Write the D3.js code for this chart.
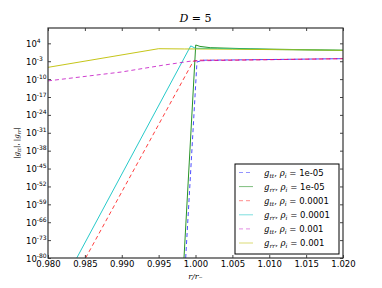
<!doctype html>
<html lang="en">
<head>
    <meta charset="UTF-8">
    <title>D3 : D=5</title>
    <script type="text/javascript" src="https://cdn.jsdelivr.net/npm/d3@7"></script>
    <style type="text/css">
        body { margin: 0; background: #fff; }
        text { font-family: "DejaVu Sans", sans-serif; fill: #000; }
        .math { font-family: "DejaVu Serif", serif; font-style: italic; }
    </style>
</head>
<body>
<script type="text/javascript">

    // r / r_minus and log10 |g|
    var ttR1 = [0.99867, 1.0002, 1.001, 1.005, 1.02];
    var ttE1 = [-80, -3.3, -2.6, -2.5, -2.0];
    var rrR1 = [0.99844, 1.00003, 1.0006, 1.002, 1.0074, 1.02];
    var rrE1 = [-80, 3.35, 2.8, 2.3, 1.85, 1.27];
    var ttR2 = [0.9851, 0.9997, 1.0005, 1.005, 1.02];
    var ttE2 = [-80, -3.0, -2.6, -2.55, -2.0];
    var rrR2 = [0.9839, 0.99935, 1.0, 1.003, 1.01, 1.02];
    var rrE2 = [-80, 3.0, 2.05, 2.0, 1.6, 1.27];
    var ttR3 = [0.98, 0.99, 0.9955, 0.9995, 1.005, 1.02];
    var ttE3 = [-10.7, -7.2, -4.6, -2.9, -2.6, -2.0];
    var rrR3 = [0.98, 0.995, 0.9985, 1.0, 1.005, 1.02];
    var rrE3 = [-5.4, 1.9, 1.8, 1.8, 1.7, 1.27];

    var labels = ["1e-05", "1e-05", "0.0001", "0.0001", "0.001", "0.001"];
    var xTicks = [0.980, 0.985, 0.990, 0.995, 1.000, 1.005, 1.010, 1.015, 1.020];
    var yTickExp = [4, -3, -10, -17, -24, -31, -38, -45, -52, -59, -66, -73, -80];

    var series = [
        {r: ttR1, e: ttE1, kind: "tt", color: "#0000ff", dash: "4,3", op: 0.7},
        {r: rrR1, e: rrE1, kind: "rr", color: "#008000", dash: null, op: 0.85},
        {r: ttR2, e: ttE2, kind: "tt", color: "#ff0000", dash: "4,3", op: 0.75},
        {r: rrR2, e: rrE2, kind: "rr", color: "#00bfbf", dash: null, op: 0.85},
        {r: ttR3, e: ttE3, kind: "tt", color: "#bf00bf", dash: "4,3", op: 0.75},
        {r: rrR3, e: rrE3, kind: "rr", color: "#bfbf00", dash: null, op: 0.9}
    ];

    var w = 382, h = 288;
    var mLeft = 48, mTop = 28, pw = 295, ph = 230;

    var xScale = d3.scaleLinear().domain([0.98, 1.02]).range([mLeft, mLeft + pw]);
    var yScale = d3.scaleLog().domain([1e-80, 1e10]).range([mTop + ph, mTop]);

    var svg = d3.select("body").append("svg").attr("width", w).attr("height", h);

    svg.append("clipPath").attr("id", "plot")
        .append("rect").attr("x", mLeft).attr("y", mTop).attr("width", pw).attr("height", ph);

    var line = d3.line()
        .x(function (d) { return xScale(d[0]); })
        .y(function (d) { return yScale(Math.pow(10, d[1])); });

    svg.append("g").attr("clip-path", "url(#plot)")
        .selectAll("path").data(series).enter().append("path")
        .attr("d", function (s) { return line(s.r.map(function (v, i) { return [v, s.e[i]]; })); })
        .attr("fill", "none")
        .attr("stroke", function (s) { return s.color; })
        .attr("stroke-opacity", function (s) { return s.op; })
        .attr("stroke-width", 1)
        .attr("stroke-dasharray", function (s) { return s.dash; });

    // axes, ticks inward on all four sides
    var yTicks = yTickExp.map(function (e) { return Math.pow(10, e); });
    svg.append("g").attr("transform", "translate(0," + (mTop + ph) + ")")
        .call(d3.axisBottom(xScale).tickValues(xTicks).tickFormat(d3.format(".3f")).tickSizeInner(-3).tickSizeOuter(0).tickPadding(3));
    svg.append("g").attr("transform", "translate(0," + mTop + ")")
        .call(d3.axisTop(xScale).tickValues(xTicks).tickFormat("").tickSizeInner(-3).tickSizeOuter(0));
    svg.append("g").attr("transform", "translate(" + mLeft + ",0)")
        .call(d3.axisLeft(yScale).tickValues(yTicks).tickFormat("").tickSizeInner(-3).tickSizeOuter(0));
    svg.append("g").attr("transform", "translate(" + (mLeft + pw) + ",0)")
        .call(d3.axisRight(yScale).tickValues(yTicks).tickFormat("").tickSizeInner(-3).tickSizeOuter(0));

    svg.selectAll(".domain").remove();
    svg.selectAll(".tick line").attr("stroke", "#444");
    svg.selectAll(".tick text").attr("font-size", "8.5px").attr("font-family", "DejaVu Sans").attr("fill", "#000");

    svg.append("rect").attr("x", mLeft).attr("y", mTop).attr("width", pw).attr("height", ph)
        .attr("fill", "none").attr("stroke", "#333").attr("stroke-width", 1.2);

    // y tick labels 10^e
    var yl = svg.append("g").selectAll("text").data(yTickExp).enter().append("text")
        .attr("x", 26)
        .attr("y", function (e) { return yScale(Math.pow(10, e)) + 3.5; })
        .attr("font-size", "8.5px");
    yl.append("tspan").text("10");
    yl.append("tspan").attr("dy", -4).attr("font-size", "6px").text(function (e) { return e; });

    // title
    var t = svg.append("text").attr("x", mLeft + pw / 2).attr("y", 22).attr("text-anchor", "middle").attr("font-size", "11px");
    t.append("tspan").attr("class", "math").text("D");
    t.append("tspan").attr("font-family", "DejaVu Serif").text(" = 5");

    // x label
    svg.append("text").attr("class", "math").attr("x", mLeft + pw / 2).attr("y", 279)
        .attr("text-anchor", "middle").attr("font-size", "8px").text("r/r\u208b");

    // y label
    var yLab = svg.append("text").attr("transform", "translate(19," + (mTop + ph / 2) + ") rotate(-90)")
        .attr("text-anchor", "middle").attr("font-size", "7px").attr("font-family", "DejaVu Serif");
    yLab.append("tspan").text("|");
    yLab.append("tspan").attr("class", "math").text("g");
    yLab.append("tspan").attr("dy", 2).attr("font-size", "5px").attr("class", "math").text("tt");
    yLab.append("tspan").attr("dy", -2).text("|, |");
    yLab.append("tspan").attr("class", "math").text("g");
    yLab.append("tspan").attr("dy", 2).attr("font-size", "5px").attr("class", "math").text("rr");
    yLab.append("tspan").attr("dy", -2).text("|");

    // legend
    var lg = svg.append("g");
    lg.append("rect").attr("x", 235).attr("y", 164).attr("width", 104).attr("height", 90)
        .attr("fill", "#fff").attr("stroke", "#000").attr("stroke-width", 1);
    var items = lg.selectAll("g.item").data(series).enter().append("g")
        .attr("transform", function (d, i) { return "translate(0," + (172.5 + i * 14.1) + ")"; });
    items.append("line").attr("x1", 239).attr("x2", 253).attr("y1", 0).attr("y2", 0)
        .attr("stroke", function (s) { return s.color; })
        .attr("stroke-opacity", function (s) { return s.op * 0.6; })
        .attr("stroke-width", 1)
        .attr("stroke-dasharray", function (s) { return s.dash; });
    var lt = items.append("text").attr("x", 264).attr("y", 3).attr("font-size", "8.5px");
    lt.append("tspan").attr("class", "math").text("g");
    lt.append("tspan").attr("class", "math").attr("dy", 2).attr("font-size", "6px").text(function (s) { return s.kind; });
    lt.append("tspan").attr("dy", -2).attr("font-family", "DejaVu Serif").text(", ");
    lt.append("tspan").attr("class", "math").text("\u03c1");
    lt.append("tspan").attr("class", "math").attr("dy", 2).attr("font-size", "6px").text("i");
    lt.append("tspan").attr("dy", -2).text(function (s, i) { return " = " + labels[i]; });

</script>
</body>
</html>
